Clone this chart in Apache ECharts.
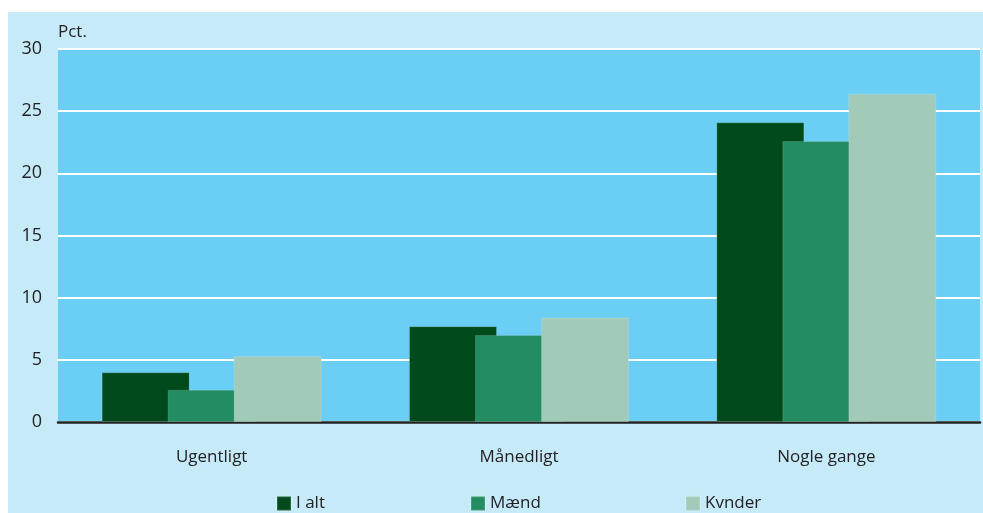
<!DOCTYPE html>
<html>
<head>
<meta charset="utf-8">
<script src="https://cdn.jsdelivr.net/npm/echarts@6/dist/echarts.min.js"></script>
<style>
  html, body { margin: 0; padding: 0; background: #fff; }
  #chart { position: absolute; left: 8px; top: 12px; width: 975px; height: 501px; background: #c7eaf9; }
</style>
</head>
<body>
<div id="chart"></div>
<script>
// data
var categories = ['Ugentligt', 'Månedligt', 'Nogle gange']
var seriesNames = ['I alt', 'Mænd', 'Kvnder']
var iAlt = [4.0, 7.7, 24.1]
var maend = [2.6, 7.0, 22.6]
var kvinder = [5.3, 8.4, 26.4]
var colors = ['#004a1c', '#228c62', '#a2cab8']

var font = '"Open Sans", "Noto Sans", sans-serif'
var myChart = echarts.init(document.getElementById('chart'))

function legendItem(name, left) {
  return {
    data: [name],
    left: left,
    top: 483,
    padding: 0,
    icon: 'rect',
    itemWidth: 14,
    itemHeight: 14,
    textStyle: { color: '#222', fontSize: 17, fontFamily: font },
  }
}

function barSeries(name, data, color) {
  return {
    name: name,
    type: 'bar',
    data: data,
    barWidth: 88,
    barGap: '-25%',
    itemStyle: {
      color: color,
      borderColor: 'rgba(255,255,255,0.15)',
      borderWidth: 1,
    },
  }
}

myChart.setOption({
  animation: false,
  color: colors,
  legend: [
    legendItem(seriesNames[0], 268),
    legendItem(seriesNames[1], 462),
    legendItem(seriesNames[2], 677),
  ],
  grid: {
    left: 50,
    right: 3,
    top: 37,
    bottom: 91,
    show: true,
    backgroundColor: '#6bcff5',
    borderWidth: 0,
  },
  xAxis: {
    type: 'category',
    data: categories,
    axisTick: { show: false },
    axisLine: { lineStyle: { color: '#222', width: 2.5 } },
    axisLabel: { color: '#222', fontSize: 17, fontFamily: font, margin: 27 },
  },
  yAxis: {
    type: 'value',
    min: 0,
    max: 30,
    interval: 5,
    name: 'Pct.',
    nameLocation: 'end',
    nameGap: 8,
    nameTextStyle: { color: '#222', fontSize: 17, fontFamily: font, align: 'left' },
    axisLine: { show: false },
    axisTick: { show: false },
    axisLabel: { color: '#222', fontSize: 18, fontFamily: font, margin: 16 },
    splitLine: { lineStyle: { color: '#ffffff', width: 2 } },
  },
  series: [
    barSeries(seriesNames[0], iAlt, colors[0]),
    barSeries(seriesNames[1], maend, colors[1]),
    barSeries(seriesNames[2], kvinder, colors[2]),
  ],
})
</script>
</body>
</html>
